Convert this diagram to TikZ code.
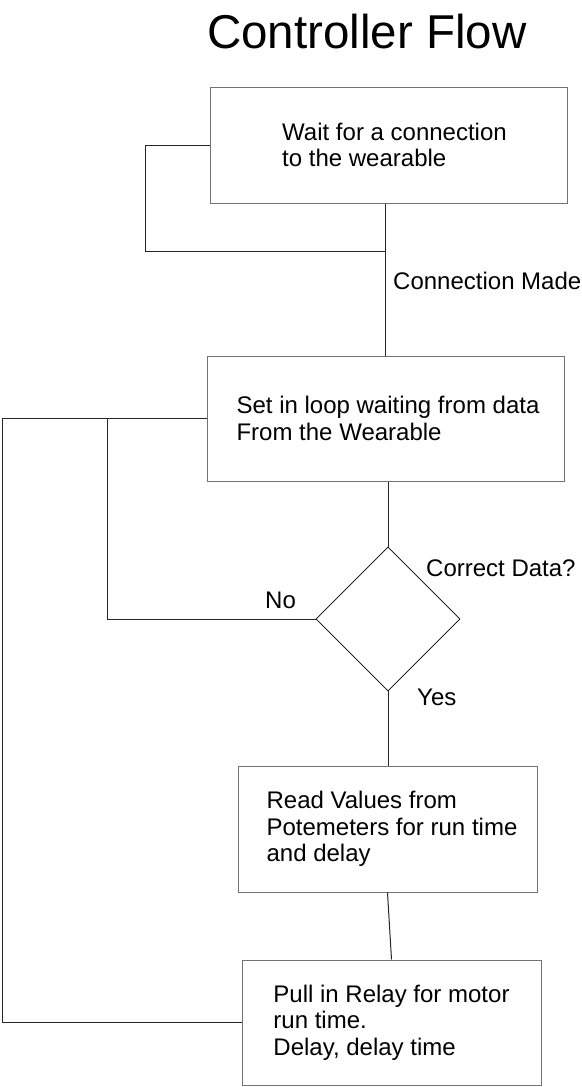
\documentclass[tikz,border=0pt]{standalone}
\usepackage{fontspec}
\setmainfont{Liberation Sans}
\usetikzlibrary{shapes.geometric}
\begin{document}
\begin{tikzpicture}[x=1pt,y=-1pt,
    box/.style ={draw=black!55,line width=1pt,align=left,inner sep=0pt,
                 font=\fontsize{24}{26.5}\selectfont},
    lbl/.style ={anchor=base west,inner sep=0pt,font=\fontsize{24}{26.5}\selectfont},
    link/.style ={line width=1pt,black!85}]
  \useasboundingbox (0,0) rectangle (581,1087);
  \node[anchor=base west,inner sep=0pt,font=\fontsize{47.5}{52}\selectfont] (title) at (207,48) {Controller Flow};
  \node[box,minimum width=357pt,minimum height=116pt] (wait) at (388.5,145)
    {\hspace*{12pt}Wait for a connection\\\hspace*{12pt}to the wearable};
  \node[box,minimum width=357pt,minimum height=125pt] (loop) at (385.5,418.5)
    {\hspace*{5pt}Set in loop waiting from data\\\hspace*{5pt}From the Wearable};
  \node[draw,diamond,minimum width=144pt,minimum height=144pt,inner sep=0pt,line width=0.8pt] (check) at (388,619) {};
  \node[box,minimum width=299pt,minimum height=126pt] (read) at (387.5,829)
    {\hspace*{9pt}Read Values from\\\hspace*{9pt}Potemeters for run time\\\hspace*{9pt}and delay};
  \node[box,minimum width=299pt,minimum height=125pt] (relay) at (391.5,1022.5)
    {Pull in Relay for motor\\run time.\\Delay, delay time\hspace*{0pt}};
  \coordinate (join) at (385,251);
  \draw[link] (wait.south -| join) -- (loop.north -| join);
  \draw[link] (wait.west) -- ++(-64,0) |- (join);
  \draw[link] (loop.south -| check.north) -- (check.north);
  \draw[link] (check.west) -- ++(-208,0) |- (loop.west);
  \draw[link] (relay.west) -- ++(-239,0) |- (loop.west);
  \draw[link] (check.south) -- (read.north -| check.south);
  \draw[link] (read.south) -- (relay.north);
  \node[lbl] (made) at (393,289) {Connection Made};
  \node[lbl] (quest) at (426,576) {Correct Data?};
  \node[lbl] (no) at (265,608) {No};
  \node[lbl] (yes) at (417,705) {Yes};
\end{tikzpicture}
\end{document}
